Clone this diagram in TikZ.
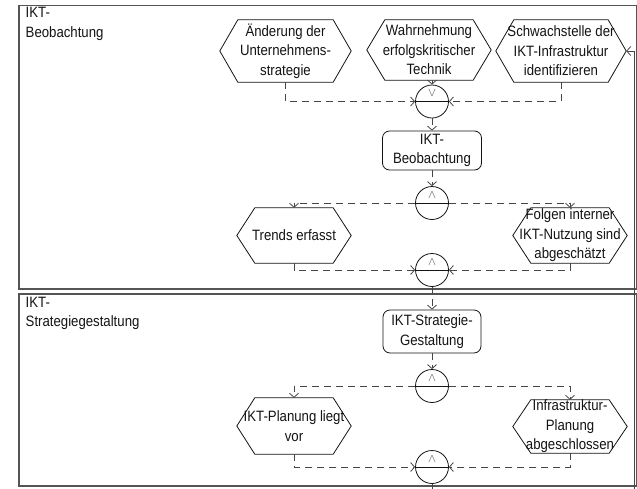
\documentclass[tikz,border=0pt]{standalone}
\usepackage{fontspec}
\newfontfamily\diafont[FakeStretch=0.88]{Liberation Sans}
\usetikzlibrary{arrows.meta}

\definecolor{ink}{RGB}{20,20,20}
\definecolor{flowgray}{RGB}{70,70,70}
\definecolor{lanegray}{RGB}{85,85,85}

\tikzset{
  txt/.style={font=\diafont\fontsize{15}{19.5}\selectfont, text=ink},
  lanebox/.style={draw=lanegray, line width=1.2pt},
  lanelabel/.style={txt, align=left, anchor=north west, inner sep=0pt},
  event/.style={txt, align=center, inner sep=0pt},
  eventframe/.style={draw=ink, line width=0.8pt, line join=miter},
  func/.style={txt, align=center, inner sep=0pt, draw=ink, line width=0.8pt,
    rounded corners=7pt},
  conn/.style={circle, draw=ink, line width=0.8pt, minimum size=33pt, inner sep=0pt},
  opline/.style={draw=ink, line width=0.8pt},
  opsym/.style={inner sep=0pt, text=flowgray, font=\fontsize{12}{12}\selectfont},
  tip/.style={-{Straight Barb[length=4pt,width=9pt]}},
  flow/.style={draw=flowgray, line width=0.8pt, dash pattern=on 7pt off 5pt, tip},
  plain/.style={draw=flowgray, line width=0.8pt},
  feedline/.style={draw=flowgray, line width=0.8pt, tip},
}

% hexagonal event outline around a node whose west/east anchors are the points
\newcommand\hexoutline[1]{%
  \draw[eventframe] (#1.west) -- ([xshift=18pt]#1.north west)
    -- ([xshift=-18pt]#1.north east) -- (#1.east)
    -- ([xshift=-18pt]#1.south east) -- ([xshift=18pt]#1.south west) -- cycle;}

\begin{document}
\begin{tikzpicture}[x=1pt, y=-1pt]
\useasboundingbox (0,0) rectangle (637,488);
\fill[white] (0,0) rectangle (637,488);

% swimlanes
\draw[lanebox] (19,5.5) rectangle (636.5,289);
\draw[lanebox] (19,294) rectangle (636.5,486);
\node[lanelabel] (lane1) at (25.5,7) {IKT-\\Beobachtung};
\node[lanelabel] (lane2) at (25.5,296.5) {IKT-\\Strategiegestaltung};

% --- lane 1: observation ---
\node[event, minimum width=131pt, minimum height=62pt] (A) at (285.5,51) {Änderung der\\Unternehmens-\\strategie};
\node[event, minimum width=124pt, minimum height=60pt] (W) at (429,50) {Wahrnehmung\\erfolgskritischer\\Technik};
\node[event, minimum width=130pt, minimum height=62pt] (S) at (561,51) {Schwachstelle der\\IKT-Infrastruktur\\identifizieren};
\hexoutline{A}\hexoutline{W}\hexoutline{S}

\node[conn] (c1) at (432,101.5) {};
\draw[opline] (c1.west) -- (c1.east);
\node[opsym] (c1sym) at ([yshift=8.5pt]c1.center) {$\vee$};

\node[func, minimum width=99pt, minimum height=39pt] (B1) at (432,150.5) {IKT-\\Beobachtung};

\node[conn] (c2) at (432,203) {};
\draw[opline] (c2.west) -- (c2.east);
\node[opsym] (c2sym) at ([yshift=8pt]c2.center) {$\wedge$};

\node[event, minimum width=114pt, minimum height=55pt] (T) at (294,235.5) {Trends erfasst};
\node[event, minimum width=114pt, minimum height=55pt] (F) at (570,235.5) {Folgen interner\\IKT-Nutzung sind\\abgeschätzt};
\hexoutline{T}\hexoutline{F}

\node[conn] (c3) at (432,270) {};
\draw[opline] (c3.west) -- (c3.east);
\node[opsym] (c3sym) at ([yshift=8pt]c3.center) {$\wedge$};

% --- lane 2: strategy design ---
\node[func, minimum width=98pt, minimum height=43pt] (B2) at (432,331.5) {IKT-Strategie-\\Gestaltung};

\node[conn] (c4) at (432,386) {};
\draw[opline] (c4.west) -- (c4.east);
\node[opsym] (c4sym) at ([yshift=8pt]c4.center) {$\wedge$};

\node[event, minimum width=114pt, minimum height=56pt] (P) at (294,426) {IKT-Planung liegt\\vor};
\node[event, minimum width=114pt, minimum height=53pt] (I) at (570,426.5) {Infrastruktur-\\Planung\\abgeschlossen};
\hexoutline{P}\hexoutline{I}

\node[conn] (c5) at (432,467) {};
\draw[opline] (c5.west) -- (c5.east);
\node[opsym] (c5sym) at ([yshift=8pt]c5.center) {$\wedge$};

\coordinate (exit) at (432,495);
\coordinate (loop) at (634,495);

% control flow
\draw[flow] (A.south) |- (c1.west);
\draw[flow] (S.south) |- (c1.east);
\draw[flow] (c1.north |- W.south) -- (c1.north);
\draw[flow] (c1.south) -- (B1.north);
\draw[flow] (B1.south) -- (c2.north);
\draw[flow] (c2.west) -| (T.north);
\draw[flow] (c2.east) -| (F.north);
\draw[flow] (T.south) |- (c3.west);
\draw[flow] (F.south) |- (c3.east);
\draw[flow] (c3.south) -- (B2.north);
\draw[flow] (B2.south) -- (c4.north);
\draw[flow] (c4.west) -| (P.north);
\draw[flow] (c4.east) -| (I.north);
\draw[flow] (P.south) |- (c5.west);
\draw[flow] (I.south) |- (c5.east);
\draw[plain] (c5.south) -- (exit);
\draw[feedline] (loop) |- (S.east);
\end{tikzpicture}
\end{document}
